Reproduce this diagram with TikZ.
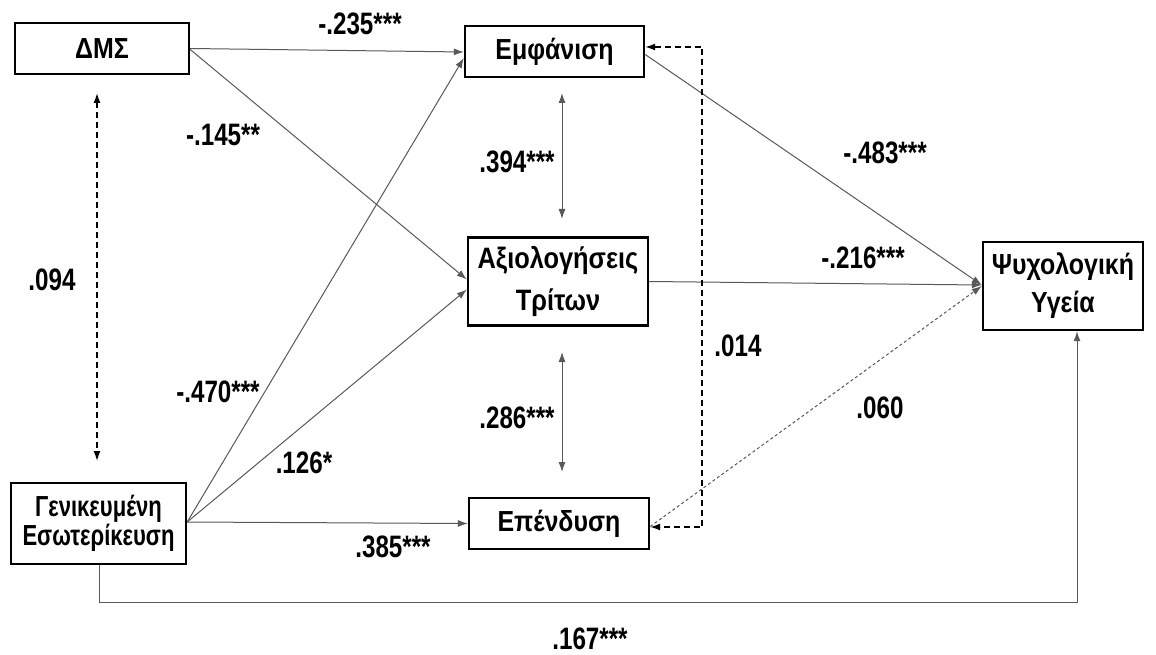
\documentclass[tikz,border=0pt]{standalone}
\usepackage{fontspec}
\newfontfamily\narrowfont[FakeStretch=0.86]{Liberation Sans}
\newfontfamily\narrowerfont[FakeStretch=0.76]{Liberation Sans}
\newfontfamily\labelfont[FakeStretch=0.78]{Liberation Sans}
\usetikzlibrary{arrows.meta,calc}
\begin{document}
\begin{tikzpicture}[x=1pt,y=-1pt,
  box/.style={draw=black,line width=2.4pt,fill=white,align=center,inner sep=0pt,
    font=\narrowfont\bfseries\fontsize{29}{38}\selectfont},
  lbl/.style={font=\labelfont\bfseries\fontsize{31}{34}\selectfont},
  conn/.style={draw=black!65,line width=1pt,-{Latex[length=10pt,width=7pt]}},
  dconn/.style={draw=black,line width=1.4pt,dash pattern=on 6pt off 4pt,{Latex[length=10pt,width=7pt]}-{Latex[length=10pt,width=7pt]}},
  dotconn/.style={draw=black!65,line width=1pt,dash pattern=on 3pt off 2.5pt,-{Latex[length=10pt,width=7pt]}},
  biconn/.style={draw=black!65,line width=1pt,{Latex[length=10pt,width=7pt]}-{Latex[length=10pt,width=7pt]}}]
\useasboundingbox (0,0) rectangle (1156,655);
\fill[white] (0,0) rectangle (1156,655);

\node[box,minimum width=174pt,minimum height=51pt] (dms) at (102,48.5) {ΔΜΣ};
\node[box,minimum width=179pt,minimum height=51pt] (emf) at (554.5,51.5) {Εμφάνιση};
\node[box,minimum width=180pt,minimum height=88pt,font=\narrowfont\bfseries\fontsize{29.5}{42}\selectfont] (axi) at (558,281.5) {Αξιολογήσεις\\Τρίτων};
\node[box,minimum width=160pt,minimum height=88pt] (psy) at (1063,286) {Ψυχολογική\\Υγεία};
\node[box,minimum width=175pt,minimum height=81pt,font=\narrowerfont\bfseries\fontsize{29}{29}\selectfont] (gen) at (98.5,523.5) {Γενικευμένη\\Εσωτερίκευση};
\node[box,minimum width=180pt,minimum height=51pt] (epe) at (559,523.5) {Επένδυση};

% coordinates for free ends
\coordinate (dmsA) at (97,93);
\coordinate (genA) at (97,461);
\coordinate (emfB) at (562,93);
\coordinate (axiB) at (562,219);
\coordinate (axiC) at (562,352);
\coordinate (epeC) at (562,472);
\coordinate (c1) at (702,47);
\coordinate (c2) at (702,527);
\coordinate (b1) at (99,602);
\coordinate (b2) at (1077,602);

% paths
\draw[conn] (dms.east) -- ([yshift=-0.5pt]emf.west);
\draw[conn] ([yshift=-1pt]dms.east) -- ([yshift=2pt]axi.west);
\draw[conn] ([yshift=1.5pt]gen.east) -- ([yshift=-6.5pt]emf.west);
\draw[conn] ([yshift=1.5pt]gen.east) -- ([yshift=-8pt]axi.west);
\draw[conn] ([yshift=1.5pt]gen.east) -- (epe.west);
\draw[conn] ([yshift=-3pt]emf.east) -- ([yshift=1pt]psy.west);
\draw[conn] (axi.east) -- ([yshift=1pt]psy.west);
\draw[dotconn] ([yshift=-3pt]epe.east) -- ([yshift=0pt]psy.west);
\draw[conn] (gen.south -| b1) -- (b1) -- (b2) -- (psy.south -| b2);

\draw[dconn] (dmsA) -- (genA);
\draw[biconn] (emfB) -- (axiB);
\draw[biconn] (axiC) -- (epeC);
\draw[dconn] ([yshift=4.5pt]emf.east) -- (c1) -- (c2) -- ([yshift=-3.5pt]epe.east);

% labels
\node[lbl] (l1) at (360,24) {-.235***};
\node[lbl] (l2) at (223,135) {-.145**};
\node[lbl] (l3) at (517,162) {.394***};
\node[lbl] (l4) at (52,280) {.094};
\node[lbl] (l5) at (885,153) {-.483***};
\node[lbl] (l6) at (863,258) {-.216***};
\node[lbl] (l7) at (738,346) {.014};
\node[lbl] (l8) at (218,392) {-.470***};
\node[lbl] (l9) at (517,418) {.286***};
\node[lbl] (l10) at (880,408) {.060};
\node[lbl] (l11) at (304,463) {.126*};
\node[lbl] (l12) at (393,547) {.385***};
\node[lbl] (l13) at (590,639) {.167***};
\end{tikzpicture}
\end{document}
